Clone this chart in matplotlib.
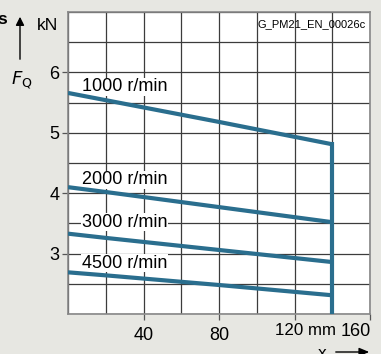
import numpy as np
import matplotlib
matplotlib.use('Agg')
import matplotlib.pyplot as plt

plt.rcParams['font.family'] = ['Liberation Sans', 'DejaVu Sans']

# datos (x en mm, F_Q en kN)
x = [0, 20, 80, 140]
f_1000 = [5.66, 5.54, 5.18, 4.81]
f_2000 = [4.10, 4.02, 3.77, 3.52]
f_3000 = [3.33, 3.26, 3.06, 2.86]
f_4500 = [2.69, 2.64, 2.48, 2.31]
x_fin = 140

etiquetas = ['1000 r/min', '2000 r/min', '3000 r/min', '4500 r/min']
pos_etiquetas = [5.76, 4.22, 3.52, 2.84]

color_linea = '#2a6e8e'
fondo = '#e7e7e2'

fig = plt.figure(figsize=(3.81, 3.54), dpi=100, facecolor=fondo)
ax = fig.add_axes([68/381, 1-314/354, (370-68)/381, (314-12)/354])
ax.set_facecolor('white')

ax.set_xlim(0, 160)
ax.set_ylim(2, 7)
ax.set_xticks(np.arange(0, 161, 20), minor=True)
ax.set_yticks(np.arange(2, 7.01, 0.5), minor=True)
ax.set_xticks([40, 80, 120, 160])
ax.set_xticklabels(['40', '80', '', ''])
ax.set_yticks([3, 4, 5, 6])
ax.set_yticklabels(['3', '4', '5', '6'])
ax.grid(True, which='both', color='#3c3c3c', linewidth=0.9)
ax.set_axisbelow(True)
ax.tick_params(which='major', length=4, width=0.9, color='#555555', labelsize=13, pad=2)
ax.tick_params(axis='x', which='major', pad=5)
ax.tick_params(which='minor', length=0)
for s in ax.spines.values():
    s.set_color('#888888')
    s.set_linewidth(1.2)

# "120 mm" y ultimo valor del eje x
y_lab = 2.0 - 9/60.4
ax.text(109.7, y_lab, '120 mm', fontsize=12.2, ha='left', va='top')
ax.text(160.3, y_lab, '160', fontsize=13, ha='right', va='top')

for serie in [f_1000, f_2000, f_3000, f_4500]:
    ax.plot(x, serie, color=color_linea, linewidth=3, solid_capstyle='butt', zorder=4)
ax.plot([x_fin, x_fin], [f_1000[-1] + 0.03, 2.0], color=color_linea, linewidth=3,
        solid_capstyle='butt', zorder=4, clip_on=False)

for et, yy in zip(etiquetas, pos_etiquetas):
    ax.text(7.4, yy, et, fontsize=13, ha='left', va='center', zorder=3,
            bbox=dict(facecolor='white', edgecolor='none', pad=0.5))

ax.text(0.985, 0.975, 'G_PM21_EN_00026c', transform=ax.transAxes, fontsize=8,
        ha='right', va='top', zorder=5)

# etiquetas de ejes
fig.text(47/381, 1-25/354, 'kN', fontsize=12.5, ha='center', va='center')
fig.text(22/381, 1-80/354, r'$F_{\mathrm{Q}}$', fontsize=13, ha='center', va='center')
fig.text(7/381, 1-20/354, 's', fontsize=12.5, fontweight='bold', ha='right', va='center')
fig.patches.append(matplotlib.patches.FancyArrowPatch(
    (20/381, 1-62/354), (20/381, 1-14/354), transform=fig.transFigure,
    arrowstyle='-|>,head_length=5,head_width=2.5', color='black', linewidth=1))
fig.text(322/381, 1-354/354, 'x', fontsize=12.5, ha='center', va='center')
fig.patches.append(matplotlib.patches.FancyArrowPatch(
    (333/381, 1-352/354), (372/381, 1-352/354), transform=fig.transFigure,
    arrowstyle='-|>,head_length=6,head_width=2.5', color='black', linewidth=1))

fig.savefig('out.png', dpi=100, facecolor=fondo)
